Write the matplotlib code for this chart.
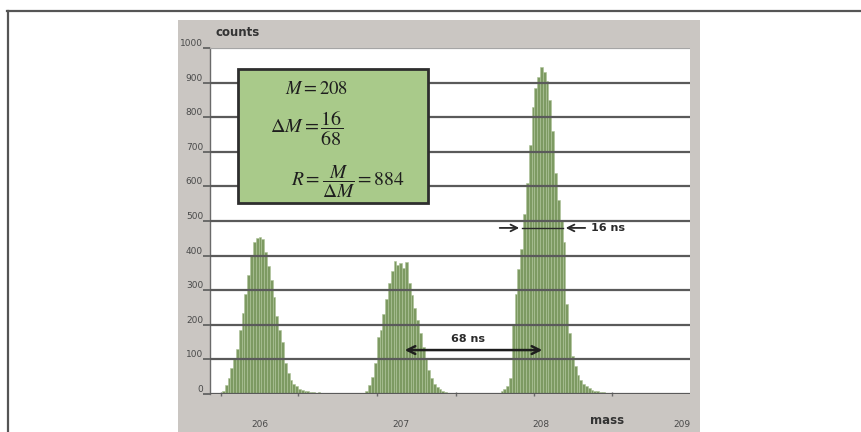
import matplotlib
matplotlib.use("Agg")
import matplotlib.pyplot as plt
from matplotlib.patches import Rectangle
from matplotlib.lines import Line2D
import numpy as np

plt.rcParams['mathtext.fontset'] = 'stix'

# ---- data ----
bin_width = 0.02

# peak near mass 206
peak1_start = 205.74
peak1_counts = [10, 25, 45, 75, 100, 130, 185, 235, 290, 345, 400, 440, 450, 455, 448,
                410, 370, 330, 280, 225, 185, 150, 90, 60, 40, 30, 22, 15, 12, 8,
                10, 6, 5, 4, 5, 3, 2, 3, 1]

# peak near mass 207
peak2_start = 206.74
peak2_counts = [3, 10, 25, 50, 90, 165, 185, 230, 275, 320, 355, 385, 372, 380, 365,
                382, 320, 285, 250, 215, 175, 135, 100, 70, 45, 30, 20, 14, 9, 6, 4,
                3, 2, 2, 1]

# peak near mass 208
peak3_start = 207.70
peak3_counts = [4, 8, 15, 22, 45, 200, 290, 360, 420, 520, 610, 720, 830, 885, 915,
                945, 930, 905, 850, 760, 640, 560, 500, 440, 260, 175, 110, 80, 55, 40,
                30, 22, 16, 12, 10, 8, 6, 5, 4, 3, 3, 2, 2, 1]

y_ticks = [0, 100, 200, 300, 400, 500, 600, 700, 800, 900, 1000]
x_ticks = [206.0, 207.0, 208.0, 209.0]
x_tick_labels = ['206', '207', '208', '209']
minor_x = [205.72, 206.27, 206.83, 207.39, 207.95, 208.50]

M = 208
dM_top, dM_bot = 16, 68
R = 884

fwhm_y = 480
fwhm_left, fwhm_right = 207.862, 208.153
sep_y = 127
sep_left, sep_right = 207.009, 208.026

# ---- figure ----
fig = plt.figure(figsize=(8.61, 4.32), dpi=100)
W, H = 861.0, 432.0

# grey panel behind the chart
fig.patches.append(Rectangle((178 / W, 0), 522 / W, (H - 20) / H, transform=fig.transFigure,
                             facecolor='#cac6c2', edgecolor='none', zorder=-5))
# page frame lines
fig.add_artist(Line2D([7 / W, 1.0], [1 - 11 / H, 1 - 11 / H], color='#555555', lw=1.6))
fig.add_artist(Line2D([7.5 / W, 7.5 / W], [0, 1 - 11 / H], color='#555555', lw=1.6))

ax = fig.add_axes([210 / W, 38 / H, 480 / W, 346 / H])
ax.set_facecolor('white')
ax.set_xlim(205.645, 209.056)
ax.set_ylim(0, 1000)

for start, counts in [(peak1_start, peak1_counts), (peak2_start, peak2_counts),
                      (peak3_start, peak3_counts)]:
    xs = start + bin_width * np.arange(len(counts))
    ax.bar(xs, counts, width=bin_width, color='#7d9a62', edgecolor='#adc398',
           linewidth=0.4, zorder=2)

# horizontal grid drawn over the bars
ax.hlines(y_ticks[1:-1], 205.645, 209.056, color='#5a5a5a', lw=1.6, zorder=3)
ax.axhline(1000, color='#a5a5a5', lw=1.6, zorder=3)
ax.axhline(0, color='#5a5a5a', lw=1.6, zorder=3)

for s in ['top', 'right', 'bottom']:
    ax.spines[s].set_visible(False)
ax.spines['left'].set_color('#6a6a6a')
ax.spines['left'].set_linewidth(1.0)

ax.set_yticks(y_ticks)
ax.set_yticklabels([str(v) for v in y_ticks])
ax.tick_params(axis='y', length=5, width=1.2, color='#5a5a5a', pad=0,
               labelsize=6.5, labelcolor='#4a4a4a')
for lab in ax.get_yticklabels():
    lab.set_verticalalignment('bottom')

ax.set_xticks(x_ticks)
ax.set_xticklabels(x_tick_labels)
ax.set_xticks(minor_x, minor=True)
ax.tick_params(axis='x', which='major', length=0, pad=19, labelsize=6.5, labelcolor='#4a4a4a')
ax.tick_params(axis='x', which='minor', length=3, width=1, color='#6a6a6a', direction='inout')

fig.text(215 / W, 1 - 33 / H, 'counts', fontsize=8.5, fontweight='bold', color='#333333',
         va='center', ha='left')
fig.text(607 / W, 1 - 420 / H, 'mass', fontsize=8.5, fontweight='bold', color='#333333',
         va='center', ha='center')

# green formula box
ax.add_patch(Rectangle((0.0583, 0.552), 0.396, 0.387, transform=ax.transAxes,
                       facecolor='#a9ca8a', edgecolor='#2e2e2e', lw=2, zorder=4))
ax.text((317 - 210) / 480, (394 - 88) / 346, r'$M = %d$' % M, transform=ax.transAxes,
        fontsize=13.5, ha='center', va='center', color='#1e1e1e', zorder=5)
ax.text((307 - 210) / 480, (394 - 129) / 346, r'$\Delta M = \dfrac{%d}{%d}$' % (dM_top, dM_bot),
        transform=ax.transAxes, fontsize=14.5, ha='center', va='center', color='#1e1e1e', zorder=5)
ax.text((348 - 210) / 480, (394 - 182) / 346, r'$R = \dfrac{M}{\Delta M} = %d$' % R,
        transform=ax.transAxes, fontsize=14, ha='center', va='center', color='#1e1e1e', zorder=5)

# FWHM arrows (16 ns)
arrow_kw = dict(arrowstyle='->', color='#2a2a2a', lw=1.3, mutation_scale=12)
ax.annotate('', xy=(fwhm_left, fwhm_y), xytext=(fwhm_left - 0.178, fwhm_y),
            arrowprops=arrow_kw, zorder=6)
ax.annotate('', xy=(fwhm_right, fwhm_y), xytext=(fwhm_right + 0.178, fwhm_y),
            arrowprops=arrow_kw, zorder=6)
ax.plot([fwhm_left, fwhm_right], [fwhm_y, fwhm_y], color='#2a2a2a', lw=1.0, zorder=6)
ax.text(fwhm_right + 0.20, fwhm_y, '16 ns', fontsize=8, fontweight='bold', color='#2a2a2a',
        ha='left', va='center', zorder=6)

# peak separation arrow (68 ns)
ax.annotate('', xy=(sep_left, sep_y), xytext=(sep_right, sep_y),
            arrowprops=dict(arrowstyle='<->', color='#1e1e1e', lw=1.8, mutation_scale=14),
            zorder=6)
ax.text((sep_left + sep_right) / 2 - 0.04, sep_y + 33, '68 ns', fontsize=8, fontweight='bold',
        color='#2a2a2a', ha='center', va='center', zorder=6)

fig.savefig('out.png', dpi=100)
